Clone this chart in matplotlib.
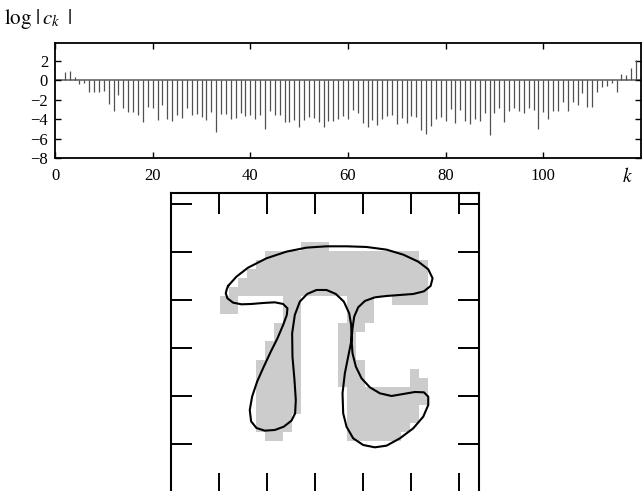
import numpy as np
import matplotlib
matplotlib.use('Agg')
import matplotlib.pyplot as plt
from matplotlib.colors import ListedColormap

plt.rcParams['font.family'] = 'serif'
plt.rcParams['font.serif'] = ['Liberation Serif', 'DejaVu Serif']
plt.rcParams['mathtext.fontset'] = 'stix'

# log|c_k| for k = 2..119
k = np.arange(2, 120)
logc = [0.85, 0.92, 0.3, -0.34, -0.27, -1.2, -1.2, -1.2, -1.12, -2.42,
        -3.2, -1.5, -2.9, -3.3, -3.3, -3.62, -4.3, -2.78, -2.9, -4.1,
        -2.55, -3.98, -4.18, -3.57, -3.84, -2.9, -3.57, -3.5, -3.74, -4.08,
        -3.23, -5.34, -3.5, -3.5, -4.0, -3.9, -3.33, -3.67, -3.62, -4.0,
        -3.57, -5.0, -3.13, -3.57, -3.57, -4.32, -4.25, -4.08, -4.83, -4.08,
        -3.74, -3.9, -4.25, -4.76, -4.18, -4.18, -3.98, -3.67, -4.0, -3.1,
        -3.33, -4.42, -4.76, -4.08, -4.6, -3.98, -3.64, -3.57, -4.52, -3.84,
        -4.42, -3.67, -3.81, -5.17, -5.54, -4.66, -3.98, -3.74, -4.18, -2.93,
        -4.42, -3.06, -4.18, -4.49, -3.98, -4.15, -3.4, -5.61, -3.4, -2.82,
        -4.25, -3.16, -2.89, -3.16, -3.33, -2.89, -3.06, -5.0, -3.23, -4.0,
        -3.13, -3.13, -2.2, -3.13, -2.2, -2.55, -1.36, -2.79, -2.72, -1.26,
        -0.68, -0.61, -0.27, -1.19, 0.68, 0.51, 1.26, 2.04]

# pi bitmap (grey cells), image coords: x = 180 + 27*col, y = 130 + 27*row
pi_bitmap = [
    ".........###...........",
    ".....#################.",
    "....###################",
    "...####################",
    "..#####################",
    ".######################",
    "##.....##.....###..####",
    "##.....##.....###......",
    ".......##.....###......",
    "......###....###.......",
    "......###....##........",
    ".....####....##........",
    ".....####....##........",
    "....#####....###.......",
    "....#####....###.....#.",
    "....#####....###.....##",
    "....#####.....#########",
    "....#####.....#########",
    "....#####.....########.",
    "....####......########.",
    "....####......#######..",
    ".....##.......######...",
]

# truncated fourier contour (image coords, y down)
curve_x = [205, 230, 265, 320, 380, 440, 500, 560, 620, 680, 730, 775, 805, 818,
           812, 792, 760, 720, 680, 645, 615, 595, 583, 578, 575, 566, 555, 548,
           550, 560, 580, 610, 645, 680, 720, 760, 790, 805, 805, 792, 765, 730,
           695, 660, 630, 605, 588, 578, 575, 574, 568, 552, 528, 500, 470, 442,
           420, 405, 397, 398, 404, 408, 406, 395, 372, 345, 315, 290, 274, 270,
           277, 292, 312, 333, 353, 370, 381, 383, 370, 345, 310, 275, 245, 220,
           203, 198, 201]
curve_y = [258, 230, 203, 175, 155, 143, 139, 139, 141, 149, 164, 185, 208, 235,
           258, 274, 282, 285, 288, 292, 303, 322, 350, 385, 420, 465, 520, 580,
           640, 680, 715, 735, 742, 737, 715, 685, 650, 615, 590, 577, 576, 582,
           588, 580, 562, 535, 500, 460, 420, 375, 340, 305, 282, 270, 270, 282,
           305, 345, 400, 470, 540, 600, 640, 662, 680, 690, 692, 684, 664, 630,
           590, 545, 500, 455, 415, 375, 345, 325, 312, 307, 309, 312, 313, 308,
           295, 280, 268]

fig = plt.figure(figsize=(6.42, 4.91), dpi=100)

# top: spectrum
ax1 = fig.add_axes([55/642, 1 - 158/491, 586/642, 114.7/491])
ax1.axhline(0, color='#666666', lw=1.2, zorder=1)
ax1.vlines(k, 0, logc, color='#505050', lw=0.9, zorder=2)
ax1.set_xlim(0, 120)
ax1.set_ylim(-8, 3.8)
ax1.set_xticks([0, 20, 40, 60, 80, 100])
ax1.set_yticks([-8, -6, -4, -2, 0, 2])
ax1.tick_params(direction='in', length=4, width=1, top=True, right=True,
                labelsize=12, colors='k')
ax1.tick_params(axis='x', pad=7)
ax1.tick_params(axis='y', pad=5)
for s in ax1.spines.values():
    s.set_linewidth(1.3)
fig.text(0.006, 0.962, r'$\log\,|\,c_k\;\;|$', fontsize=15, va='center', ha='left')
fig.text(0.978, 0.641, r'$k$', fontsize=14, va='center', ha='center')

# bottom: pi shape
ax2 = fig.add_axes([170.7/642, -3/491, 308.6/642, 300.7/491])
grid = np.array([[1 if ch == '#' else 0 for ch in row] for row in pi_bitmap])
nrow, ncol = grid.shape
ax2.imshow(grid, cmap=ListedColormap(['white', '#cccccc']), interpolation='nearest',
           extent=(180, 180 + 27*ncol, 130 + 27*nrow, 130), aspect='auto', zorder=1)
ax2.plot(curve_x + curve_x[:1], curve_y + curve_y[:1], color='k', lw=1.5, zorder=2)
ax2.set_xlim(33, 958)
ax2.set_ylim(882, -20)
ax2.set_xticks([178, 322, 465, 609, 753, 897])
ax2.set_yticks([12, 155, 299, 443, 587, 732])
ax2.tick_params(direction='in', length=15, width=1.4, top=True, right=True,
                labelbottom=False, labelleft=False)
for s in ax2.spines.values():
    s.set_linewidth(1.5)

fig.savefig('out.png', dpi=100)
